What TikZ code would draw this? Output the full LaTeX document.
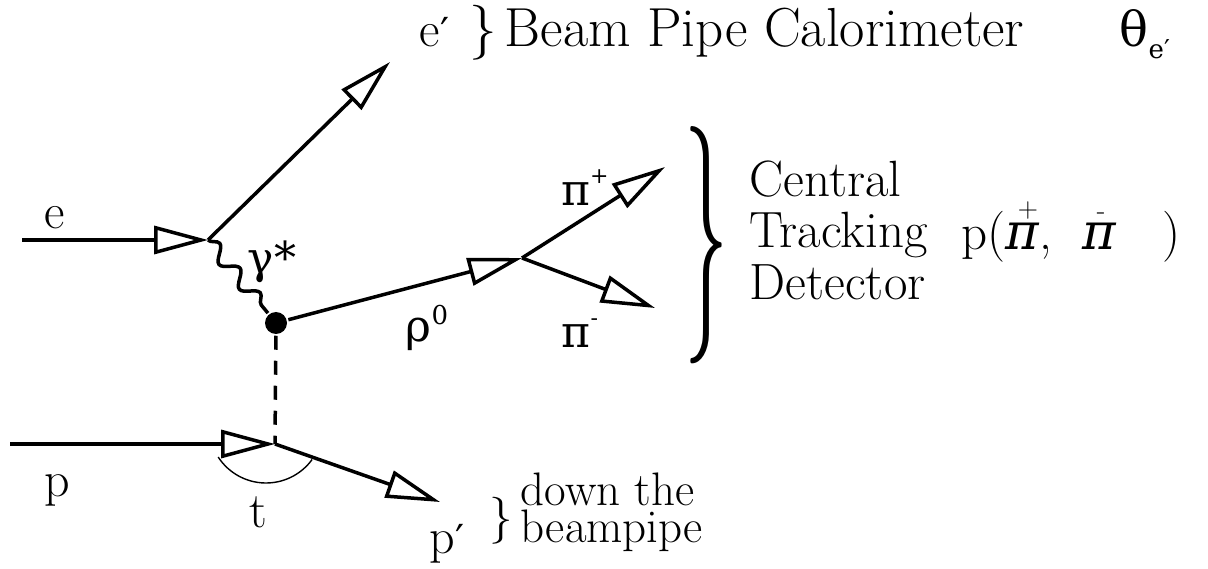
\documentclass[tikz,border=0pt]{standalone}
\usepackage{fontspec}
\usepackage{graphicx}
\usetikzlibrary{arrows.meta,decorations.pathmorphing,calc}
\newfontfamily\grfont{DejaVu Serif}
\newcommand{\prm}{{\grfont\fontsize{40}{40}\selectfont ′}}
\newcommand{\stackpi}[2]{\vbox{\offinterlineskip\hbox{\hskip#2\fontsize{28}{28}\selectfont #1}\kern4pt\hbox{\grfont\itshape π}}}
\begin{document}
\begin{tikzpicture}[x=1pt,y=-1pt,
  line width=3.5pt,
  oarr/.style={-{Triangle[open,length=54pt,width=28pt,line width=3.5pt]}},
  lab/.style={font=\fontsize{50}{50}\selectfont, inner sep=0pt},
  glab/.style={font=\grfont\fontsize{44}{44}\selectfont, inner sep=0pt},
  txt/.style={font=\fontsize{55}{55}\selectfont, inner sep=0pt},
  ctxt/.style={font=\fontsize{51}{51}\selectfont, inner sep=0pt},
  small/.style={font=\fontsize{47}{37}\selectfont, inner sep=0pt},
]
\useasboundingbox (0,0) rectangle (1208,569);
% vertices
\coordinate (ein) at (22,240);
\coordinate (v1) at (208,240);
\coordinate (eout) at (390,62);
\node[circle,fill,inner sep=0pt,minimum size=22pt] (blob) at (276,323) {};
\coordinate (v2) at (522,258);
\coordinate (pip) at (665,167);
\coordinate (pim) at (655,308);
\coordinate (pin) at (10,444);
\coordinate (v3) at (275,444);
\coordinate (pout) at (440,502);
\coordinate (tc) at (266,426);
% lines
\draw[oarr] (ein) -- (v1);
\draw[oarr] (v1) -- (eout);
\draw[decorate,decoration={snake,segment length=32pt,amplitude=7pt}] (v1) -- (blob);
\draw[oarr] (blob) -- (v2);
\draw[oarr] (v2) -- (pip);
\draw[oarr] (v2) -- (pim);
\draw[oarr] (pin) -- (v3);
\draw[dash pattern=on 14pt off 11pt] (blob) -- (v3);
\draw[oarr] (v3) -- (pout);
\draw[line width=1.4pt] ([shift={(147:57)}]tc) arc[start angle=147,end angle=36,radius=57];
% labels
\node[lab] (le) at (55,218) {e};
\node[lab] (lp) at (57,490) {p};
\node[lab] (lt) at (258,512) {t};
\node[glab] (lgam) at (272,262) {γ*};
\node[glab] (lrho) at (427,328) {ρ\raisebox{0.4em}{\fontsize{26}{26}\selectfont 0}};
\node[glab] (lpip) at (585,188) {π\raisebox{0.5em}{\fontsize{22}{22}\selectfont +}};
\node[glab] (lpim) at (580,333) {π\raisebox{0.5em}{\fontsize{22}{22}\selectfont -}};
% top text
\node[lab, anchor=base west] (leprime) at (418,47) {e\prm};
\node[txt, anchor=base west] (brtop) at (468,47) {\}};
\node[txt, anchor=base west] (bpc) at (503,47) {Beam Pipe Calorimeter};
\node[glab, anchor=base west] (theta) at (1118,47) {\fontsize{48}{48}\selectfont θ\raisebox{-0.25em}{\fontsize{26}{26}\selectfont e′}};
% tracking detector
\node[inner sep=0pt] (bigbr) at (706,245) {\resizebox{44pt}{178pt}{\}}};
\node[ctxt, anchor=base west] (c1) at (748,197) {Central};
\node[ctxt, anchor=base west] (c2) at (748,248) {Tracking};
\node[ctxt, anchor=base west] (c3) at (748,300) {Detector};
\node[ctxt, anchor=base west] (ppi) at (960,250) {p(\stackpi{+}{12pt},\ \ \stackpi{-}{14pt}\ \ \ )};
% bottom text
\node[lab, anchor=base west] (lpp) at (428,553) {p\prm};
\node[small, anchor=base west] (brbot) at (488,532) {\}};
\node[small, anchor=north west, align=left] (dtbp) at (519,471) {down the\\beampipe};
\end{tikzpicture}
\end{document}
